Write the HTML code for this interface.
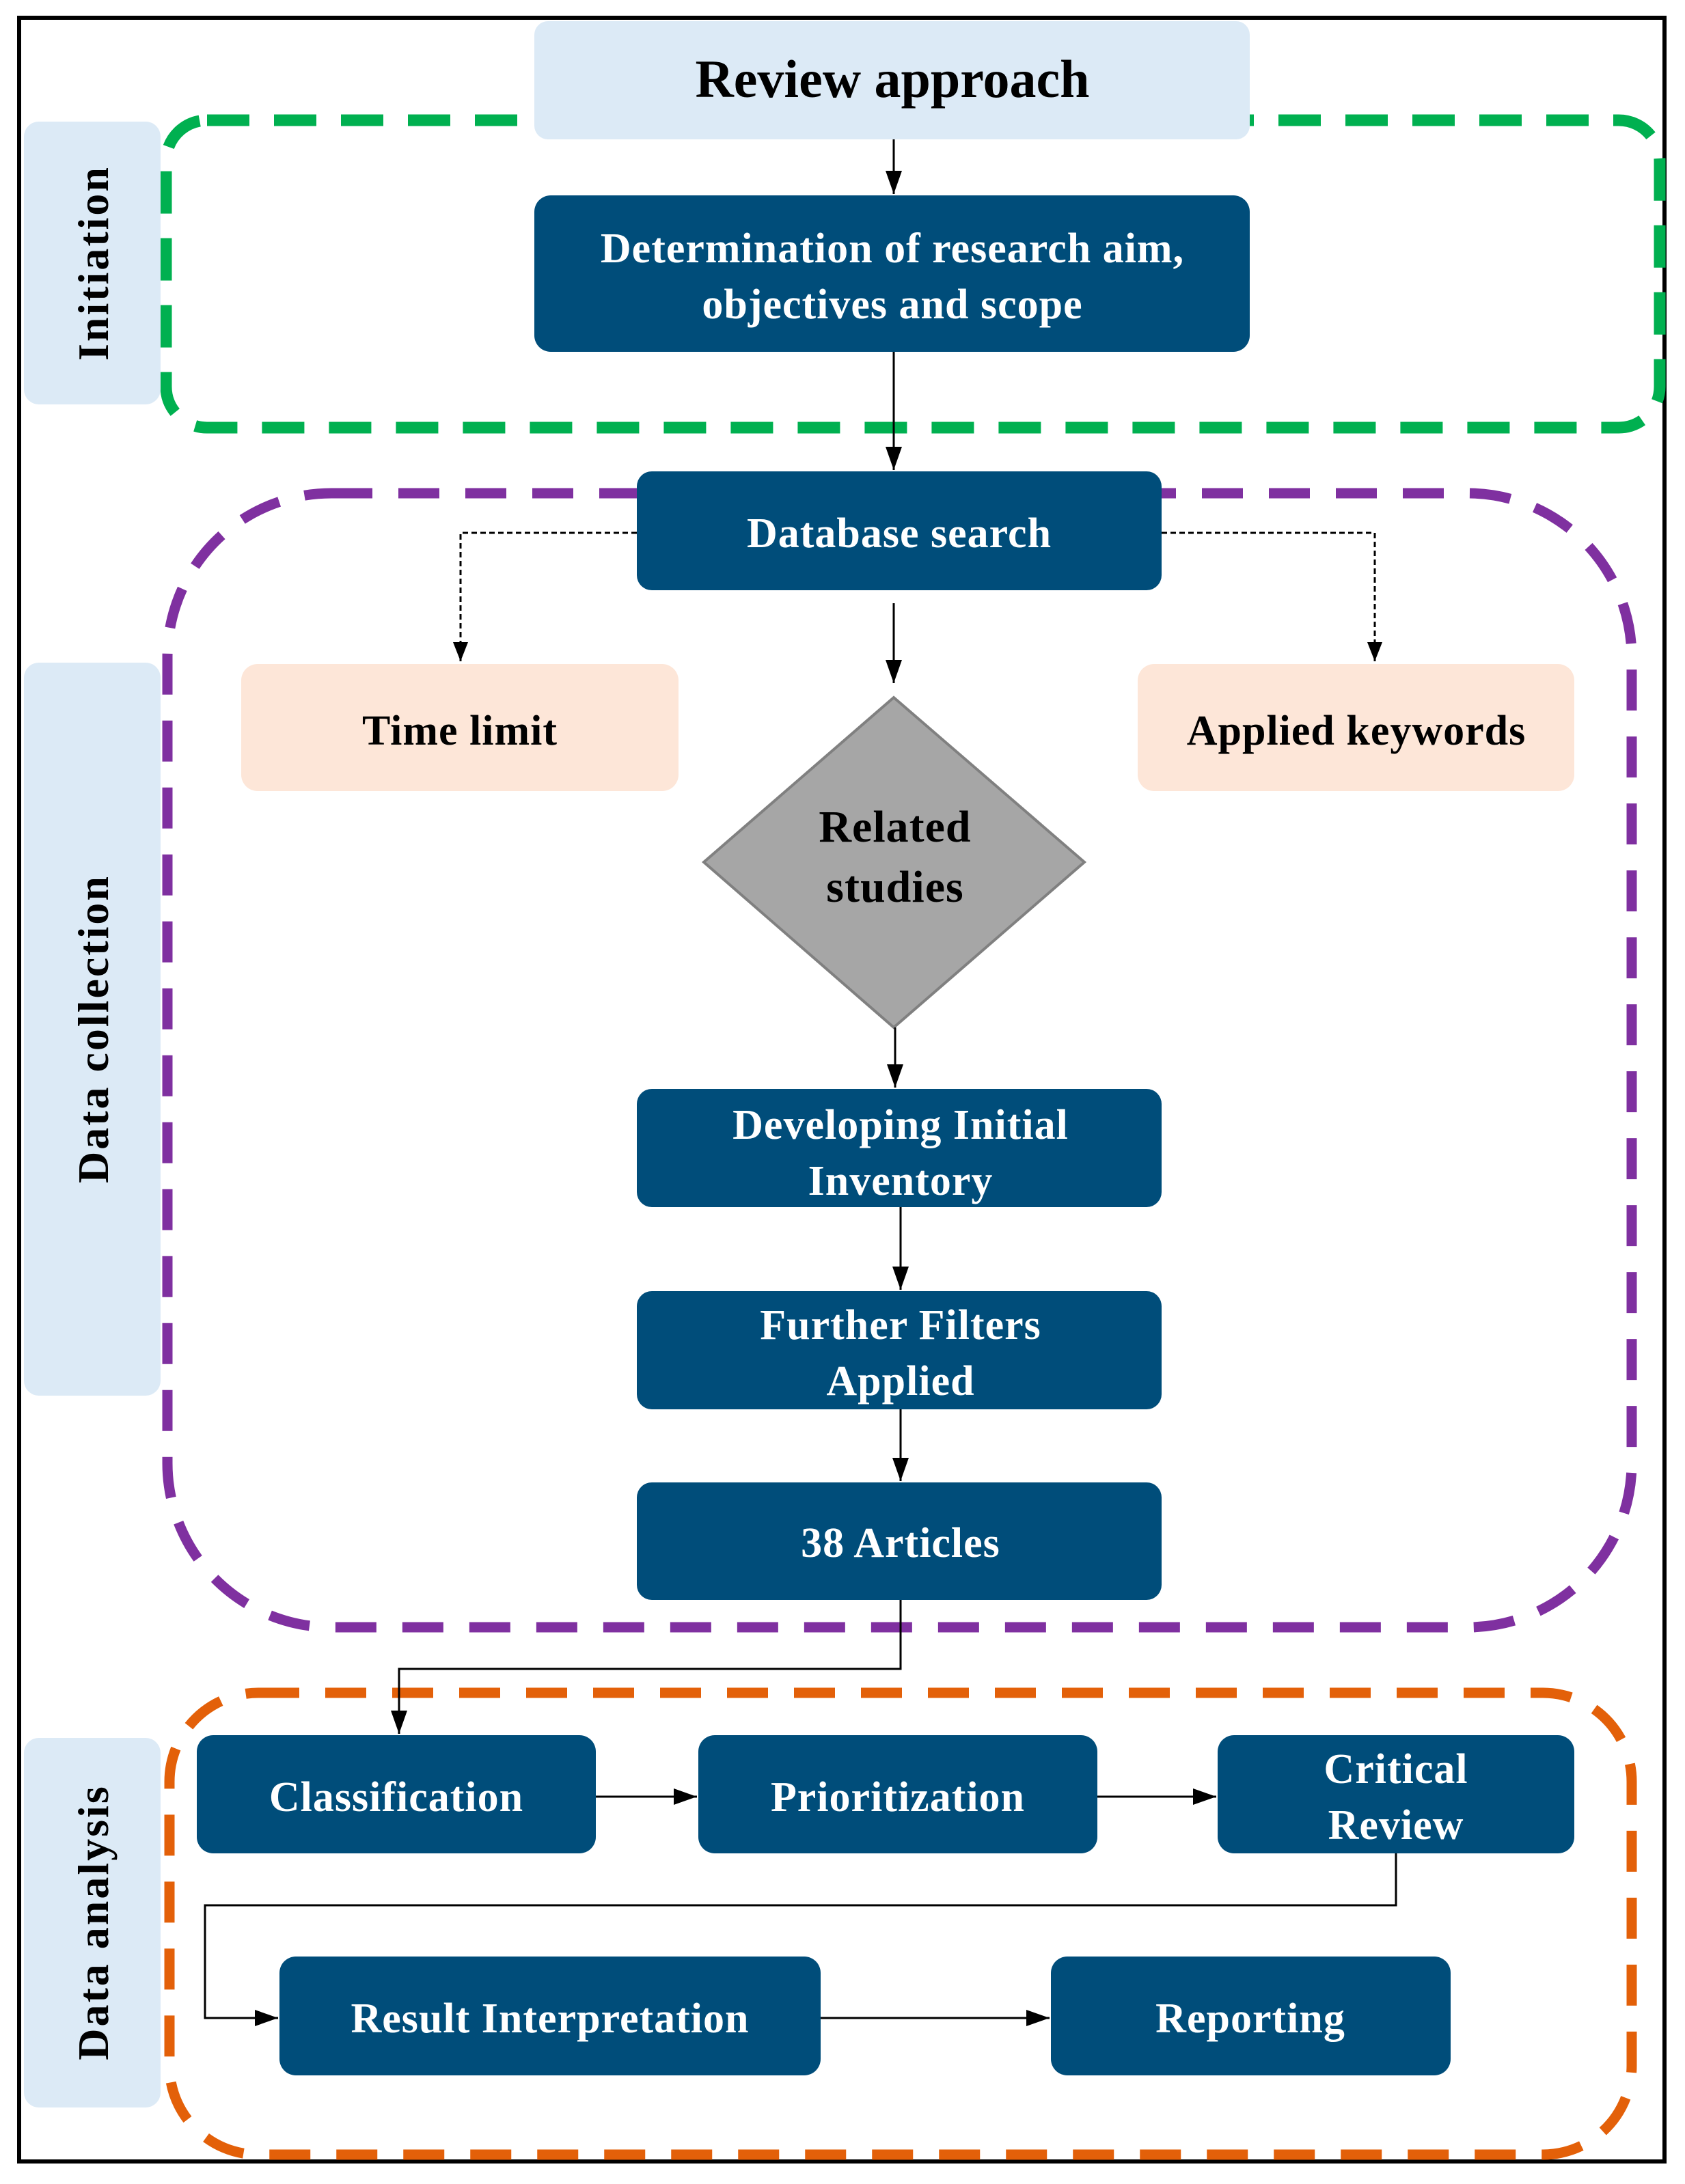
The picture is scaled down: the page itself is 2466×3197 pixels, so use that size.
<!DOCTYPE html>
<html><head><meta charset="utf-8"><style>
html,body{margin:0;padding:0;background:#fff;}
svg{display:block;}
text{font-family:"Liberation Serif",serif;font-weight:bold;}
</style></head><body>
<svg width="2466" height="3197" viewBox="0 0 2466 3197" xmlns="http://www.w3.org/2000/svg">
<defs>
<marker id="ah" markerWidth="34" markerHeight="24" refX="34" refY="12" orient="auto" markerUnits="userSpaceOnUse" viewBox="0 0 34 24">
<path d="M0,0 L34,12 L0,24 z" fill="#000"/></marker>
<marker id="ahs" markerWidth="28" markerHeight="22" refX="28" refY="11" orient="auto" markerUnits="userSpaceOnUse" viewBox="0 0 28 22">
<path d="M0,0 L28,11 L0,22 z" fill="#000"/></marker>
</defs>
<rect x="0" y="0" width="2466" height="3197" fill="#fff"/>
<rect x="28" y="26" width="2408" height="3138" fill="none" stroke="#000" stroke-width="6"/>

<rect x="243" y="176" width="2186" height="450" rx="60" fill="none" stroke="#00b050" stroke-width="17" stroke-dasharray="62,36"/>
<rect x="245" y="722" width="2143" height="1660" rx="240" fill="none" stroke="#7f30a0" stroke-width="15" stroke-dasharray="60,38"/>
<rect x="248" y="2478" width="2140" height="676" rx="130" fill="none" stroke="#e36009" stroke-width="15" stroke-dasharray="60,38"/>

<rect x="35" y="178" width="200" height="414" rx="22" fill="#dceaf6"/>
<rect x="35" y="970" width="200" height="1073" rx="22" fill="#dceaf6"/>
<rect x="35" y="2544" width="200" height="541" rx="22" fill="#dceaf6"/>
<text transform="translate(158,385) rotate(-90)" font-size="64" text-anchor="middle" letter-spacing="3">Initiation</text>
<text transform="translate(158,1506) rotate(-90)" font-size="64" text-anchor="middle" letter-spacing="3">Data collection</text>
<text transform="translate(158,2814) rotate(-90)" font-size="64" text-anchor="middle" letter-spacing="3">Data analysis</text>

<rect x="782" y="31" width="1047" height="173" rx="20" fill="#dceaf6"/>
<text x="1306" y="142" font-size="78" text-anchor="middle">Review approach</text>

<g fill="#004d7a">
<rect x="782" y="286" width="1047" height="229" rx="24"/>
<rect x="932" y="690" width="768" height="174" rx="22"/>
<rect x="932" y="1594" width="768" height="173" rx="22"/>
<rect x="932" y="1890" width="768" height="173" rx="22"/>
<rect x="932" y="2170" width="768" height="172" rx="22"/>
<rect x="288" y="2540" width="584" height="173" rx="24"/>
<rect x="1022" y="2540" width="584" height="173" rx="24"/>
<rect x="1782" y="2540" width="522" height="173" rx="24"/>
<rect x="409" y="2864" width="792" height="174" rx="24"/>
<rect x="1538" y="2864" width="585" height="174" rx="24"/>
</g>
<rect x="353" y="972" width="640" height="186" rx="24" fill="#fde6d8"/>
<rect x="1665" y="972" width="639" height="186" rx="24" fill="#fde6d8"/>
<polygon points="1308,1021 1587,1262 1308,1504 1030,1262" fill="#a6a6a6" stroke="#808080" stroke-width="4"/>

<g fill="#fff" font-size="62" text-anchor="middle" letter-spacing="1">
<text x="1306" y="384">Determination of research aim,</text>
<text x="1306" y="466">objectives and scope</text>
<text x="1316" y="801">Database search</text>
<text x="1318" y="1667">Developing Initial</text>
<text x="1318" y="1749">Inventory</text>
<text x="1318" y="1960">Further Filters</text>
<text x="1318" y="2042">Applied</text>
<text x="1318" y="2279">38 Articles</text>
<text x="580" y="2651">Classification</text>
<text x="1314" y="2651">Prioritization</text>
<text x="2043" y="2610">Critical</text>
<text x="2043" y="2692">Review</text>
<text x="805" y="2975">Result Interpretation</text>
<text x="1830" y="2975">Reporting</text>
</g>
<g fill="#000" font-size="62" text-anchor="middle" letter-spacing="1">
<text x="673" y="1090">Time limit</text>
<text x="1985" y="1090">Applied keywords</text>
<text x="1310" y="1232" font-size="66">Related</text>
<text x="1310" y="1320" font-size="66">studies</text>
</g>

<g stroke="#000" stroke-width="3" fill="none">
<line x1="1308" y1="204" x2="1308" y2="284" marker-end="url(#ah)"/>
<line x1="1308" y1="515" x2="1308" y2="688" marker-end="url(#ah)"/>
<line x1="1308" y1="883" x2="1308" y2="1000" marker-end="url(#ah)"/>
<line x1="1310" y1="1504" x2="1310" y2="1592" marker-end="url(#ah)"/>
<line x1="1318" y1="1767" x2="1318" y2="1888" marker-end="url(#ah)"/>
<line x1="1318" y1="2063" x2="1318" y2="2168" marker-end="url(#ah)"/>
<polyline points="1318,2342 1318,2443 584,2443 584,2538" marker-end="url(#ah)"/>
<line x1="872" y1="2630" x2="1020" y2="2630" marker-end="url(#ah)"/>
<line x1="1606" y1="2630" x2="1780" y2="2630" marker-end="url(#ah)"/>
<polyline points="2043,2713 2043,2789 300,2789 300,2954 407,2954" marker-end="url(#ah)"/>
<line x1="1201" y1="2954" x2="1536" y2="2954" marker-end="url(#ah)"/>
</g>
<g stroke="#000" stroke-width="3" fill="none" stroke-dasharray="8,5">
<polyline points="932,780 674,780 674,968" marker-end="url(#ahs)"/>
<polyline points="1700,780 2012,780 2012,968" marker-end="url(#ahs)"/>
</g>
</svg>
</body></html>
